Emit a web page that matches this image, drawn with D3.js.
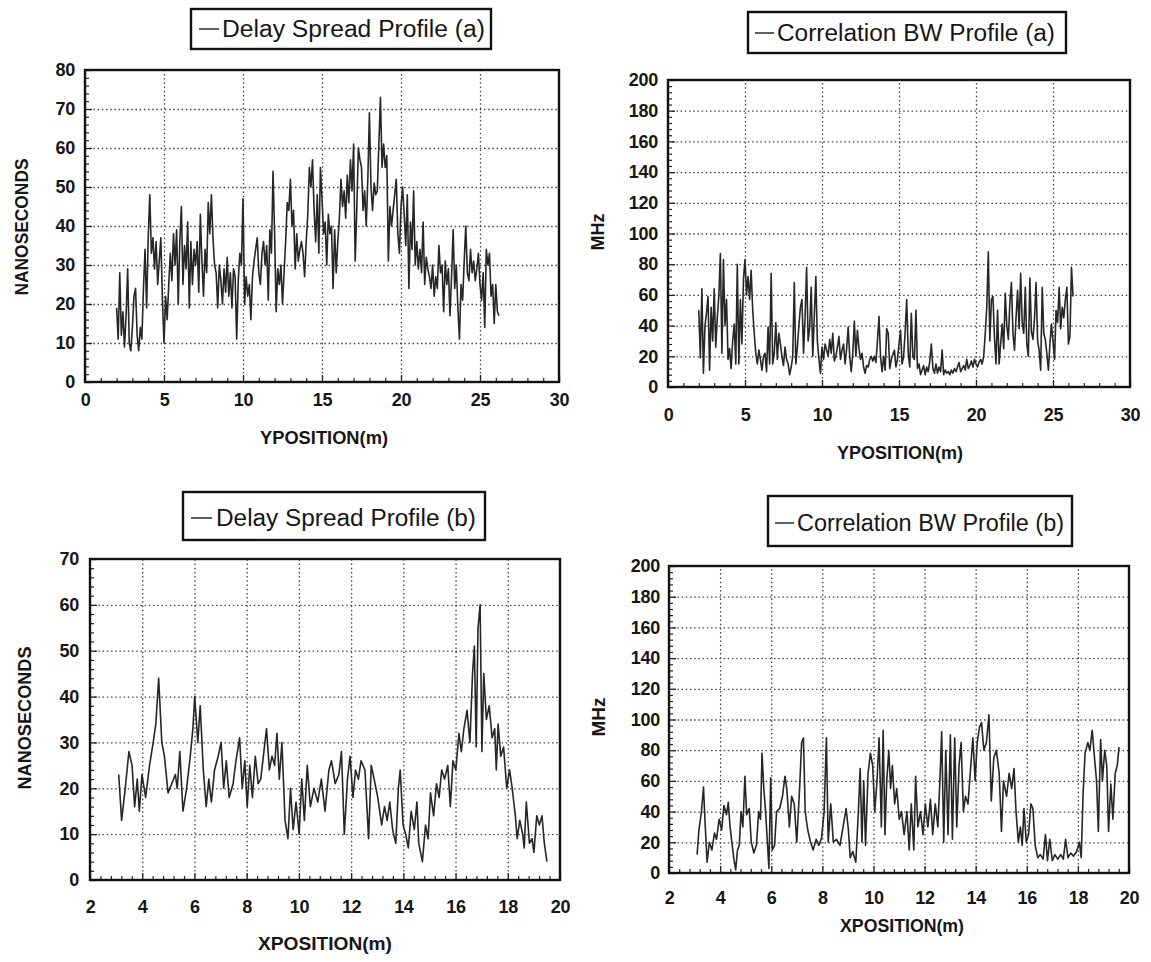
<!DOCTYPE html>
<html><head><meta charset="utf-8">
<script src="https://cdn.jsdelivr.net/npm/d3@7"></script>
<style>
body{margin:0;background:#fff;}
svg text{font-family:"Liberation Sans",Arial,Helvetica,sans-serif;fill:#161616;}
</style></head><body>
<svg id="c" width="1151" height="962"></svg>
<script>
// ---------- DATA ----------
// Delay Spread Profile (a): sampled every 0.1 m from 2.0 m
const delaySpreadAStart = 2.0, delaySpreadAStep = 0.1;
const delaySpreadA = [
19,11,28,12,18,9,17,29,10,8,
14,22,24,12,8,14,11,24,34,19,
37,48,33,37,29,36,25,31,37,21,
10,22,16,25,33,26,38,30,39,20,
36,45,25,35,29,41,19,36,25,34,
30,36,23,43,31,22,34,28,46,38,
48,37,30,28,19,30,26,20,29,23,
32,22,28,19,29,27,11,26,33,30,
47,20,27,22,25,16,27,31,34,37,
28,25,33,36,30,35,21,39,33,54,
38,18,29,25,30,20,28,36,46,44,
52,40,44,29,38,31,34,36,33,27,
36,43,55,50,57,44,36,48,33,55,
47,38,41,30,43,38,40,24,39,28,
36,42,52,45,49,42,53,46,57,49,
61,31,44,60,57,55,44,49,40,52,
69,50,44,51,48,49,61,73,55,61,
55,58,31,45,40,44,48,52,38,33,
45,50,43,35,48,24,41,34,49,30,
36,29,34,28,41,25,32,29,27,24,
30,22,27,24,35,28,30,18,31,25,
29,17,27,39,24,30,19,11,25,21,
31,40,28,26,34,28,31,26,29,33,
25,21,28,14,34,30,33,22,25,15,
25,18,17];

// Correlation BW Profile (a): sampled every 0.1 m from 2.0 m
const corrBwAStart = 2.0, corrBwAStep = 0.1;
const corrBwA = [
50,19,64,9,40,48,59,11,52,30,
64,26,45,59,87,22,83,40,57,18,
25,12,30,41,15,80,15,57,28,70,
83,60,72,57,76,50,35,22,15,24,
18,11,20,22,10,39,15,74,15,22,
42,18,35,28,20,14,26,18,15,8,
13,20,68,15,26,40,52,57,22,45,
78,30,39,65,20,46,72,30,18,9,
26,18,28,24,20,31,22,35,17,20,
26,33,18,24,28,15,25,39,20,10,
22,43,20,37,25,18,22,13,9,14,
13,18,20,17,20,16,30,46,20,10,
20,11,38,35,12,18,21,24,13,18,
28,37,15,20,36,57,22,13,48,20,
18,50,12,15,8,11,14,8,13,10,
17,28,12,9,15,9,13,10,24,8,
11,9,10,8,11,9,12,10,13,16,
10,12,14,11,18,12,14,17,13,18,
15,13,16,18,15,20,35,52,88,30,
57,59,32,15,50,15,28,41,25,61,
40,31,55,68,35,24,45,63,38,74,
42,35,65,28,20,71,36,31,45,68,
30,24,11,65,35,31,22,11,28,41,
30,18,50,42,65,38,52,45,57,65,
28,33,78,59];

// Delay Spread Profile (b): positions (m) and values (ns)
const delaySpreadBX = [3.10,3.21,3.35,3.49,3.61,3.71,3.81,3.89,3.99,4.13,4.28,4.42,4.52,4.63,4.75,4.85,4.99,5.13,5.27,5.34,5.44,5.56,5.70,5.84,5.94,6.01,6.13,6.22,6.34,6.45,6.55,6.65,6.77,6.91,7.02,7.12,7.22,7.33,7.48,7.59,7.73,7.83,7.93,8.02,8.12,8.22,8.33,8.44,8.54,8.64,8.76,8.87,8.97,9.07,9.16,9.25,9.35,9.47,9.58,9.68,9.78,9.89,10.01,10.11,10.21,10.32,10.44,10.58,10.72,10.86,11.00,11.15,11.25,11.39,11.53,11.63,11.74,11.86,11.96,12.07,12.17,12.28,12.38,12.53,12.67,12.77,12.88,13.02,13.17,13.28,13.38,13.48,13.59,13.71,13.81,13.88,13.99,14.09,14.19,14.30,14.42,14.52,14.59,14.73,14.85,14.95,15.04,15.16,15.27,15.37,15.47,15.58,15.70,15.80,15.90,16.01,16.13,16.22,16.32,16.44,16.55,16.65,16.72,16.79,16.86,16.94,17.01,17.08,17.18,17.29,17.40,17.50,17.56,17.63,17.73,17.84,17.96,18.07,18.17,18.29,18.36,18.46,18.57,18.63,18.71,18.83,18.93,19.00,19.11,19.21,19.31,19.40,19.50];
const delaySpreadBY = [23,13,20,28,25,16,22,15,23,18,25,30,34,44,30,27,19,21,23,20,28,15,20,27,33,40,30,38,24,16,22,17,24,27,30,20,26,18,21,26,31,20,26,16,25,18,27,21,22,27,33,24,27,25,32,22,30,13,9,20,11,17,10,22,13,25,16,20,17,22,15,24,26,21,23,28,10,22,27,18,24,22,26,24,9,25,22,18,12,16,13,17,11,8,20,24,12,10,7,15,11,17,8,4,12,9,19,14,21,18,24,22,25,16,26,24,32,28,33,37,30,45,51,29,55,60,28,45,35,38,31,33,24,34,27,29,20,24,20,14,9,13,10,7,17,8,9,6,14,12,14,8,4];

// Correlation BW Profile (b): positions (m) and values (MHz)
const corrBwBX = [3.10,3.17,3.27,3.35,3.42,3.49,3.58,3.68,3.78,3.86,3.96,4.06,4.15,4.25,4.32,4.39,4.46,4.54,4.61,4.68,4.75,4.82,4.89,4.97,5.04,5.14,5.22,5.32,5.42,5.51,5.58,5.64,5.71,5.78,5.85,5.91,5.98,6.04,6.13,6.21,6.33,6.44,6.54,6.61,6.71,6.80,6.90,7.00,7.11,7.19,7.26,7.33,7.43,7.54,7.64,7.76,7.87,7.97,8.07,8.16,8.23,8.33,8.43,8.55,8.69,8.83,8.93,9.02,9.09,9.19,9.31,9.41,9.48,9.55,9.62,9.69,9.79,9.88,9.97,10.05,10.14,10.22,10.31,10.38,10.45,10.52,10.60,10.67,10.74,10.83,10.91,11.01,11.10,11.20,11.31,11.40,11.48,11.58,11.65,11.74,11.84,11.94,12.03,12.13,12.23,12.32,12.42,12.52,12.60,12.67,12.75,12.83,12.92,13.01,13.09,13.18,13.26,13.35,13.43,13.52,13.60,13.70,13.81,13.89,13.98,14.06,14.15,14.23,14.32,14.42,14.52,14.61,14.71,14.81,14.92,15.01,15.09,15.21,15.31,15.41,15.50,15.58,15.67,15.75,15.82,15.89,15.98,16.07,16.16,16.24,16.33,16.43,16.53,16.64,16.73,16.81,16.90,17.00,17.10,17.21,17.33,17.43,17.52,17.61,17.72,17.83,17.95,18.06,18.13,18.20,18.28,18.39,18.47,18.56,18.65,18.73,18.80,18.89,18.96,19.05,19.13,19.20,19.29,19.37,19.46,19.54,19.61];
const corrBwBY = [12,28,40,56,30,7,20,15,26,22,35,28,44,38,46,30,20,9,2,15,18,40,30,63,38,42,20,13,18,40,35,78,55,40,20,3,62,15,18,40,42,50,63,55,30,50,45,20,55,85,88,40,28,20,15,22,18,23,40,88,20,45,20,22,18,32,42,28,10,14,7,40,68,20,60,18,65,78,70,40,60,88,30,93,25,60,80,55,70,45,55,35,40,25,40,15,45,15,63,30,40,25,45,30,48,25,45,30,60,92,20,80,25,90,22,88,30,70,85,40,50,45,70,88,60,85,95,98,80,85,103,47,75,80,65,27,60,50,65,55,68,40,20,30,18,42,20,25,45,42,18,10,12,9,25,8,22,8,12,9,12,9,22,10,13,11,14,20,10,50,78,85,80,93,75,60,27,87,60,80,70,27,58,35,65,70,82];

// Axis tick labels
const xTicksA = [0,5,10,15,20,25,30];
const yTicksDelayA = [0,10,20,30,40,50,60,70,80];
const yTicksBw = [0,20,40,60,80,100,120,140,160,180,200];
const xTicksB = [2,4,6,8,10,12,14,16,18,20];
const yTicksDelayB = [0,10,20,30,40,50,60,70];

// ---------- LAYOUT ----------
const panels = [
 {legend:"Delay Spread Profile (a)", xLabel:"YPOSITION(m)", yLabel:"NANOSECONDS",
  pts: delaySpreadA.map((v,i)=>[delaySpreadAStart+i*delaySpreadAStep, v]),
  xTicks:xTicksA, yTicks:yTicksDelayA, xMinorStep:1, yMinorStep:2,
  l:85, r:559, t:70, b:382, xPad:11, yPad:10,
  box:[191,9,300,40], ln:[199,219], tx:[222,263], ty:29,
  yl:[21,227,137], xl:[324,437,128]},
 {legend:"Correlation BW Profile (a)", xLabel:"YPOSITION(m)", yLabel:"MHz",
  pts: corrBwA.map((v,i)=>[corrBwAStart+i*corrBwAStep, v]),
  xTicks:xTicksA, yTicks:yTicksBw, xMinorStep:1, yMinorStep:4,
  l:668, r:1130, t:80, b:387, xPad:21, yPad:10,
  box:[748,12,318,41], ln:[755,774], tx:[777,278], ty:33,
  yl:[597,232,37], xl:[900,452,126]},
 {legend:"Delay Spread Profile (b)", xLabel:"XPOSITION(m)", yLabel:"NANOSECONDS",
  pts: delaySpreadBX.map((x,i)=>[x, delaySpreadBY[i]]),
  xTicks:xTicksB, yTicks:yTicksDelayB, xMinorStep:0.4, yMinorStep:2,
  l:90, r:560, t:559, b:880, xPad:20, yPad:11,
  box:[183,492,302,48], ln:[191,212], tx:[216,260], ty:518,
  yl:[24,718,143], xl:[325,943,134]},
 {legend:"Correlation BW Profile (b)", xLabel:"XPOSITION(m)", yLabel:"MHz",
  pts: corrBwBX.map((x,i)=>[x, corrBwBY[i]]),
  xTicks:xTicksB, yTicks:yTicksBw, xMinorStep:0.4, yMinorStep:4,
  l:669, r:1129, t:566, b:873, xPad:18, yPad:9,
  box:[768,496,304,50], ln:[775,794], tx:[797,267], ty:523,
  yl:[598,717,39], xl:[902,925,124]}
];

const svg = d3.select("#c");

function minorVals(ticks, step){
  const lo = ticks[0], hi = ticks[ticks.length-1];
  const n = Math.round((hi-lo)/step);
  return d3.range(n+1).map(i=>+(lo+i*step).toFixed(4)).filter(v=>!ticks.some(t=>Math.abs(t-v)<1e-6));
}

panels.forEach(p=>{
  const x = d3.scaleLinear().domain([p.xTicks[0], p.xTicks[p.xTicks.length-1]]).range([p.l,p.r]);
  const y = d3.scaleLinear().domain([p.yTicks[0], p.yTicks[p.yTicks.length-1]]).range([p.b,p.t]);
  const g = svg.append("g");
  const W = p.r-p.l, H = p.b-p.t;
  const inner = a=>a.slice(1,-1);

  // grid lines
  g.append("g").attr("transform",`translate(0,${p.b})`)
   .call(d3.axisBottom(x).tickValues(inner(p.xTicks)).tickSize(-H).tickFormat(""))
   .call(a=>a.select(".domain").remove())
   .selectAll("line").attr("stroke","#444").attr("stroke-width",1.3).attr("stroke-dasharray","1.5,2.7");
  g.append("g").attr("transform",`translate(${p.l},0)`)
   .call(d3.axisLeft(y).tickValues(inner(p.yTicks)).tickSize(-W).tickFormat(""))
   .call(a=>a.select(".domain").remove())
   .selectAll("line").attr("stroke","#444").attr("stroke-width",1.3).attr("stroke-dasharray","1.5,2.7");

  // minor ticks
  g.append("g").attr("transform",`translate(0,${p.b})`)
   .call(d3.axisBottom(x).tickValues(minorVals(p.xTicks,p.xMinorStep)).tickSize(-4).tickFormat(""))
   .call(a=>a.select(".domain").remove())
   .selectAll("line").attr("stroke","#222").attr("stroke-width",1.2);
  g.append("g").attr("transform",`translate(${p.l},0)`)
   .call(d3.axisLeft(y).tickValues(minorVals(p.yTicks,p.yMinorStep)).tickSize(-4).tickFormat(""))
   .call(a=>a.select(".domain").remove())
   .selectAll("line").attr("stroke","#222").attr("stroke-width",1.2);

  // major ticks + labels
  const xa = g.append("g").attr("transform",`translate(0,${p.b})`)
   .call(d3.axisBottom(x).tickValues(p.xTicks).tickSize(-7).tickPadding(p.xPad).tickFormat(d3.format("d")));
  xa.select(".domain").remove();
  xa.selectAll("line").attr("stroke","#222").attr("stroke-width",1.3);
  xa.selectAll("text").attr("font-size",18).attr("font-weight","bold").attr("fill","#161616")
    .attr("letter-spacing","-0.3").attr("font-family","'Liberation Sans',Arial,sans-serif");
  const ya = g.append("g").attr("transform",`translate(${p.l},0)`)
   .call(d3.axisLeft(y).tickValues(p.yTicks).tickSize(-7).tickPadding(p.yPad).tickFormat(d3.format("d")));
  ya.select(".domain").remove();
  ya.selectAll("line").attr("stroke","#222").attr("stroke-width",1.3);
  ya.selectAll("text").attr("font-size",18).attr("font-weight","bold").attr("fill","#161616")
    .attr("letter-spacing","-0.3").attr("font-family","'Liberation Sans',Arial,sans-serif");

  // data line
  g.append("path").datum(p.pts)
   .attr("fill","none").attr("stroke","#262626").attr("stroke-width",1.6)
   .attr("stroke-linejoin","round")
   .attr("d", d3.line().x(d=>x(d[0])).y(d=>y(d[1])));

  // frame
  g.append("rect").attr("x",p.l).attr("y",p.t).attr("width",W).attr("height",H)
   .attr("fill","none").attr("stroke","#111").attr("stroke-width",2.4);

  // axis titles
  g.append("text").attr("x",p.xl[0]).attr("y",p.xl[1]).attr("dy","0.35em")
   .attr("text-anchor","middle").attr("font-size",19).attr("font-weight","bold")
   .attr("textLength",p.xl[2]).attr("lengthAdjust","spacingAndGlyphs").text(p.xLabel);
  g.append("text").attr("transform",`translate(${p.yl[0]},${p.yl[1]}) rotate(-90)`).attr("dy","0.35em")
   .attr("text-anchor","middle").attr("font-size",19).attr("font-weight","bold")
   .attr("textLength",p.yl[2]).attr("lengthAdjust","spacingAndGlyphs").text(p.yLabel);

  // legend box
  const [bx,by,bw,bh] = p.box;
  g.append("rect").attr("x",bx).attr("y",by).attr("width",bw).attr("height",bh)
   .attr("fill","#fff").attr("stroke","#111").attr("stroke-width",2.4);
  g.append("line").attr("x1",p.ln[0]).attr("x2",p.ln[1]).attr("y1",p.ty).attr("y2",p.ty)
   .attr("stroke","#2b2b2b").attr("stroke-width",1.5);
  g.append("text").attr("x",p.tx[0]).attr("y",p.ty).attr("dy","0.36em")
   .attr("font-size",23).attr("textLength",p.tx[1]).attr("lengthAdjust","spacingAndGlyphs")
   .text(p.legend);
});
</script>
</body></html>
